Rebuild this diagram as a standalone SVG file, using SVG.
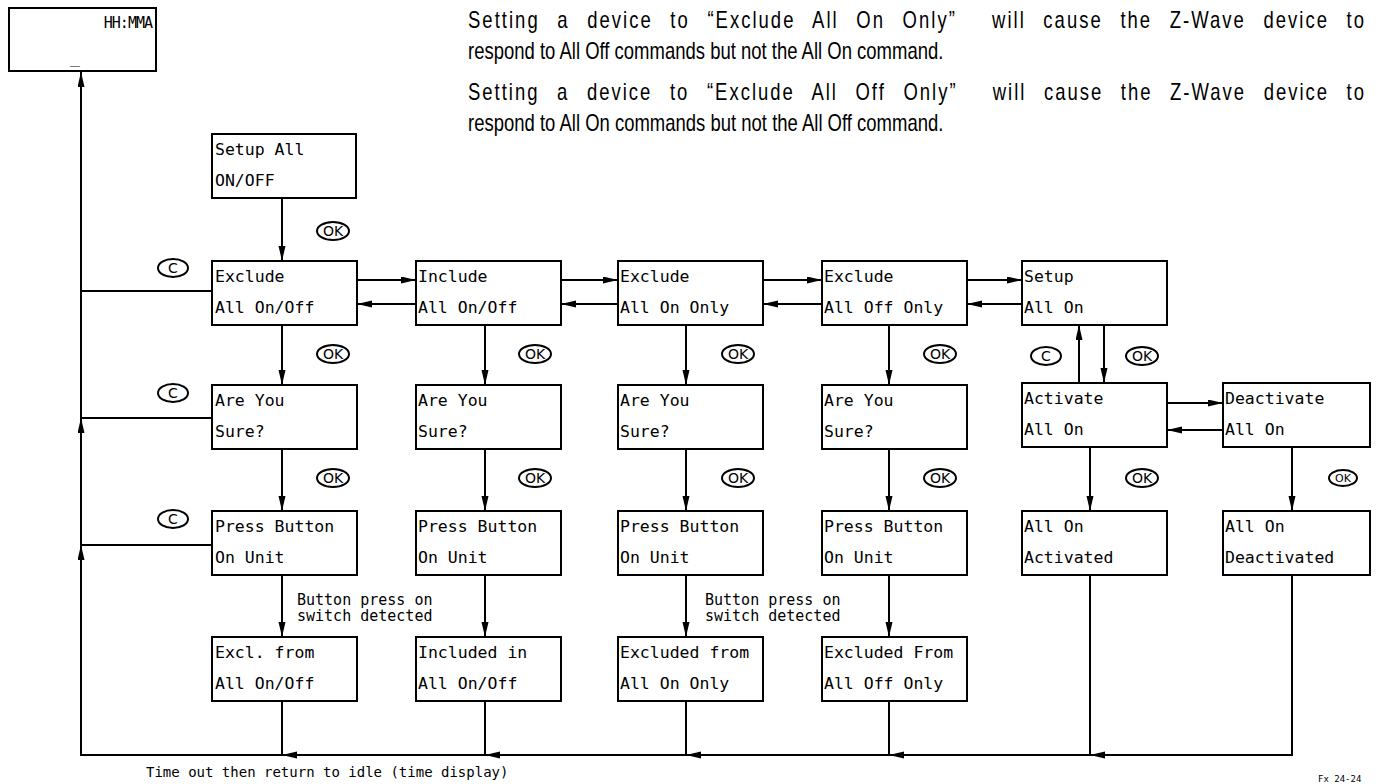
<svg xmlns="http://www.w3.org/2000/svg" width="1379" height="784" viewBox="0 0 1379 784">
<style>
.box{fill:#fff;stroke:#000;stroke-width:2}
.t{font-family:"DejaVu Sans Mono",monospace;font-size:16.5px;fill:#000}
.s{font-family:"DejaVu Sans Mono",monospace;font-size:15px;fill:#000}
.p{font-family:"Liberation Sans",Arial,sans-serif;font-size:23px;fill:#000}
.j{letter-spacing:2.5px;word-spacing:13px}
.ln{fill:none;stroke:#000;stroke-width:2}
.a{fill:none;stroke:#000;stroke-width:2;marker-end:url(#ah)}
.ic{fill:#fff;stroke:#000;stroke-width:2}
.it{font-family:"DejaVu Sans",sans-serif;font-size:14px;fill:#000;text-anchor:middle}
</style>
<defs>
<marker id="ah" markerUnits="userSpaceOnUse" markerWidth="16" markerHeight="8" refX="15" refY="3.5" orient="auto">
<path d="M0,0 L15,3.5 L0,7 z" fill="#000"/>
</marker>
</defs>
<rect width="1379" height="784" fill="#fff"/>

<g id="notes">
<text class="p j" xml:space="preserve" transform="translate(468,28) scale(0.804,1)" textLength="1117" lengthAdjust="spacing">Setting a device to “Exclude All On Only”  will cause the Z-Wave device to</text>
<text class="p" transform="translate(468,59) scale(0.804,1)">respond to All Off commands but not the All On command.</text>
<text class="p j" xml:space="preserve" transform="translate(468,100) scale(0.804,1)" textLength="1117" lengthAdjust="spacing">Setting a device to “Exclude All Off Only”  will cause the Z-Wave device to</text>
<text class="p" transform="translate(468,131) scale(0.804,1)">respond to All On commands but not the All Off command.</text>
</g>

<g id="connectors">
<line class="a" x1="81" y1="755" x2="81" y2="545"/>
<line class="a" x1="81" y1="545" x2="81" y2="418"/>
<line class="a" x1="81" y1="418" x2="81" y2="72"/>
<line class="ln" x1="81" y1="291" x2="212" y2="291"/>
<line class="ln" x1="81" y1="418" x2="212" y2="418"/>
<line class="ln" x1="81" y1="545" x2="212" y2="545"/>
<line class="a" x1="1292" y1="755" x2="1090" y2="755"/>
<line class="a" x1="1090" y1="755" x2="889" y2="755"/>
<line class="a" x1="889" y1="755" x2="686" y2="755"/>
<line class="a" x1="686" y1="755" x2="485" y2="755"/>
<line class="a" x1="485" y1="755" x2="282" y2="755"/>
<line class="ln" x1="282" y1="755" x2="80" y2="755"/>
<line class="ln" x1="1292" y1="575" x2="1292" y2="756"/>
<line class="ln" x1="1090" y1="575" x2="1090" y2="755"/>
<line class="ln" x1="282" y1="701" x2="282" y2="755"/>
<line class="ln" x1="485" y1="701" x2="485" y2="755"/>
<line class="ln" x1="686" y1="701" x2="686" y2="755"/>
<line class="ln" x1="889" y1="701" x2="889" y2="755"/>
<line class="a" x1="282" y1="198" x2="282" y2="261"/>
<line class="a" x1="357" y1="280" x2="416" y2="280"/>
<line class="a" x1="416" y1="304" x2="357" y2="304"/>
<line class="a" x1="561" y1="280" x2="618" y2="280"/>
<line class="a" x1="618" y1="304" x2="561" y2="304"/>
<line class="a" x1="763" y1="280" x2="822" y2="280"/>
<line class="a" x1="822" y1="304" x2="763" y2="304"/>
<line class="a" x1="967" y1="280" x2="1022" y2="280"/>
<line class="a" x1="1022" y1="304" x2="967" y2="304"/>
<line class="a" x1="282" y1="325" x2="282" y2="385"/>
<line class="a" x1="485" y1="325" x2="485" y2="385"/>
<line class="a" x1="686" y1="325" x2="686" y2="385"/>
<line class="a" x1="889" y1="325" x2="889" y2="385"/>
<line class="a" x1="1079" y1="383" x2="1079" y2="325"/>
<line class="a" x1="1104" y1="325" x2="1104" y2="383"/>
<line class="a" x1="1167" y1="403" x2="1223" y2="403"/>
<line class="a" x1="1223" y1="430" x2="1167" y2="430"/>
<line class="a" x1="282" y1="449" x2="282" y2="511"/>
<line class="a" x1="485" y1="449" x2="485" y2="511"/>
<line class="a" x1="686" y1="449" x2="686" y2="511"/>
<line class="a" x1="889" y1="449" x2="889" y2="511"/>
<line class="a" x1="1090" y1="447" x2="1090" y2="511"/>
<line class="a" x1="1292" y1="447" x2="1292" y2="511"/>
<line class="a" x1="282" y1="575" x2="282" y2="637"/>
<line class="a" x1="485" y1="575" x2="485" y2="637"/>
<line class="a" x1="686" y1="575" x2="686" y2="637"/>
<line class="a" x1="889" y1="575" x2="889" y2="637"/>
</g>

<g id="labels">
<text class="s" x="297" y="605">Button press on</text>
<text class="s" x="297" y="621">switch detected</text>
<text class="s" x="705" y="605">Button press on</text>
<text class="s" x="705" y="621">switch detected</text>
<text class="s" x="146" y="777" style="font-size:14px">Time out then return to idle (time display)</text>
<text x="1318" y="782" style="font-family:'DejaVu Sans Mono',monospace;font-size:9px">Fx 24-24</text>
</g>

<g id="icons">
<g id="ok-0"><ellipse class="ic" cx="333" cy="231" rx="16" ry="9"/><text class="it" x="333" y="236">OK</text></g>
<g id="ok-1a"><ellipse class="ic" cx="333" cy="354" rx="16" ry="9"/><text class="it" x="333" y="359">OK</text></g>
<g id="ok-2a"><ellipse class="ic" cx="535" cy="354" rx="16" ry="9"/><text class="it" x="535" y="359">OK</text></g>
<g id="ok-3a"><ellipse class="ic" cx="738" cy="354" rx="16" ry="9"/><text class="it" x="738" y="359">OK</text></g>
<g id="ok-4a"><ellipse class="ic" cx="940" cy="354" rx="16" ry="9"/><text class="it" x="940" y="359">OK</text></g>
<g id="ok-5a"><ellipse class="ic" cx="1142" cy="356" rx="16" ry="9"/><text class="it" x="1142" y="361">OK</text></g>
<g id="c-5"><ellipse class="ic" cx="1046" cy="356" rx="15" ry="9"/><text class="it" x="1046" y="361">C</text></g>
<g id="ok-1b"><ellipse class="ic" cx="333" cy="478" rx="16" ry="9"/><text class="it" x="333" y="483">OK</text></g>
<g id="ok-2b"><ellipse class="ic" cx="535" cy="478" rx="16" ry="9"/><text class="it" x="535" y="483">OK</text></g>
<g id="ok-3b"><ellipse class="ic" cx="738" cy="478" rx="16" ry="9"/><text class="it" x="738" y="483">OK</text></g>
<g id="ok-4b"><ellipse class="ic" cx="940" cy="478" rx="16" ry="9"/><text class="it" x="940" y="483">OK</text></g>
<g id="ok-5b"><ellipse class="ic" cx="1142" cy="478" rx="16" ry="9"/><text class="it" x="1142" y="483">OK</text></g>
<g id="ok-6b"><ellipse class="ic" cx="1343" cy="478" rx="14" ry="8"/><text class="it" x="1343" y="482" style="font-size:11px">OK</text></g>
<g id="c-1"><ellipse class="ic" cx="173" cy="268" rx="15" ry="9"/><text class="it" x="173" y="273">C</text></g>
<g id="c-2"><ellipse class="ic" cx="173" cy="393" rx="15" ry="9"/><text class="it" x="173" y="398">C</text></g>
<g id="c-3"><ellipse class="ic" cx="173" cy="519" rx="15" ry="9"/><text class="it" x="173" y="524">C</text></g>
</g>

<g id="idle-display"><rect class="box" x="9" y="8" width="147" height="63"/><text class="t" x="152" y="28" text-anchor="end" style="font-size:15px;letter-spacing:-1px">HH:MMA</text><text class="t" x="70" y="63">_</text></g>
<g id="setup-all"><rect class="box" x="212" y="134" width="144" height="64"/><text class="t" x="215" y="155">Setup All</text><text class="t" x="215" y="186">ON/OFF</text></g>

<g id="excl-onoff"><rect class="box" x="212" y="261" width="145" height="64"/><text class="t" x="215" y="282">Exclude</text><text class="t" x="215" y="313">All On/Off</text></g>
<g id="incl-onoff"><rect class="box" x="416" y="261" width="145" height="64"/><text class="t" x="418" y="282">Include</text><text class="t" x="418" y="313">All On/Off</text></g>
<g id="excl-ononly"><rect class="box" x="618" y="261" width="145" height="64"/><text class="t" x="620" y="282">Exclude</text><text class="t" x="620" y="313">All On Only</text></g>
<g id="excl-offonly"><rect class="box" x="822" y="261" width="145" height="64"/><text class="t" x="824" y="282">Exclude</text><text class="t" x="824" y="313">All Off Only</text></g>
<g id="setup-allon"><rect class="box" x="1022" y="261" width="145" height="64"/><text class="t" x="1024" y="282">Setup</text><text class="t" x="1024" y="313">All On</text></g>

<g id="sure-1"><rect class="box" x="212" y="385" width="145" height="64"/><text class="t" x="215" y="406">Are You</text><text class="t" x="215" y="437">Sure?</text></g>
<g id="sure-2"><rect class="box" x="416" y="385" width="145" height="64"/><text class="t" x="418" y="406">Are You</text><text class="t" x="418" y="437">Sure?</text></g>
<g id="sure-3"><rect class="box" x="618" y="385" width="145" height="64"/><text class="t" x="620" y="406">Are You</text><text class="t" x="620" y="437">Sure?</text></g>
<g id="sure-4"><rect class="box" x="822" y="385" width="145" height="64"/><text class="t" x="824" y="406">Are You</text><text class="t" x="824" y="437">Sure?</text></g>
<g id="activate"><rect class="box" x="1022" y="383" width="145" height="64"/><text class="t" x="1024" y="404">Activate</text><text class="t" x="1024" y="435">All On</text></g>
<g id="deactivate"><rect class="box" x="1223" y="383" width="147" height="64"/><text class="t" x="1225" y="404">Deactivate</text><text class="t" x="1225" y="435">All On</text></g>

<g id="press-1"><rect class="box" x="212" y="511" width="145" height="64"/><text class="t" x="215" y="532">Press Button</text><text class="t" x="215" y="563">On Unit</text></g>
<g id="press-2"><rect class="box" x="416" y="511" width="145" height="64"/><text class="t" x="418" y="532">Press Button</text><text class="t" x="418" y="563">On Unit</text></g>
<g id="press-3"><rect class="box" x="618" y="511" width="145" height="64"/><text class="t" x="620" y="532">Press Button</text><text class="t" x="620" y="563">On Unit</text></g>
<g id="press-4"><rect class="box" x="822" y="511" width="145" height="64"/><text class="t" x="824" y="532">Press Button</text><text class="t" x="824" y="563">On Unit</text></g>
<g id="activated"><rect class="box" x="1022" y="511" width="145" height="64"/><text class="t" x="1024" y="532">All On</text><text class="t" x="1024" y="563">Activated</text></g>
<g id="deactivated"><rect class="box" x="1223" y="511" width="147" height="64"/><text class="t" x="1225" y="532">All On</text><text class="t" x="1225" y="563">Deactivated</text></g>

<g id="excl-from-1"><rect class="box" x="212" y="637" width="145" height="64"/><text class="t" x="215" y="658">Excl. from</text><text class="t" x="215" y="689">All On/Off</text></g>
<g id="incl-in"><rect class="box" x="416" y="637" width="145" height="64"/><text class="t" x="418" y="658">Included in</text><text class="t" x="418" y="689">All On/Off</text></g>
<g id="excl-from-3"><rect class="box" x="618" y="637" width="145" height="64"/><text class="t" x="620" y="658">Excluded from</text><text class="t" x="620" y="689">All On Only</text></g>
<g id="excl-from-4"><rect class="box" x="822" y="637" width="145" height="64"/><text class="t" x="824" y="658">Excluded From</text><text class="t" x="824" y="689">All Off Only</text></g>
</svg>
